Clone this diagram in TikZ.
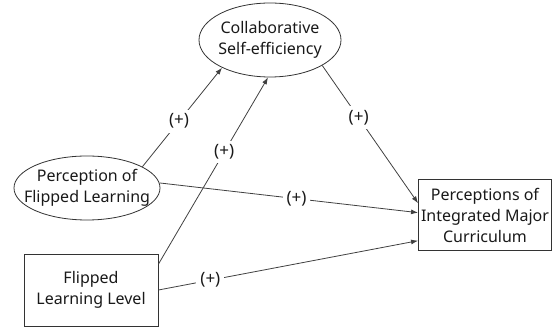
\documentclass[tikz,border=0pt]{standalone}
\usepackage{fontspec}
\setmainfont{Noto Sans}
\usetikzlibrary{shapes.geometric,arrows.meta}
\begin{document}
\begin{tikzpicture}[x=1pt,y=-1pt,
  every node/.style={font=\fontsize{16}{21}\selectfont, align=center, text=black!90},
  ell/.style={draw=black!80, line width=0.8pt, ellipse, inner xsep=-30pt, inner ysep=-12pt},
  boxnode/.style={draw=black!80, line width=0.9pt, rectangle, inner sep=0pt},
  arr/.style={draw=black!75, line width=0.8pt, -{Latex[length=7pt,width=5pt]}},
  lbl/.style={fill=white, inner sep=4pt, font=\fontsize{17}{20}\selectfont}]
\useasboundingbox (0,0) rectangle (556,328);
\node[ell, minimum width=142pt, minimum height=74pt] (cse) at (270,40) {Collaborative\\Self-efficiency};
\node[ell, minimum width=146pt, minimum height=64pt] (pfl) at (87,188) {Perception of\\Flipped Learning};
\node[boxnode, minimum width=134pt, minimum height=72pt] (ffl) at (91,290) {Flipped\\Learning Level};
\node[boxnode, minimum width=133pt, minimum height=71pt] (pim) at (485,215) {Perceptions of\\Integrated Major\\Curriculum};
\draw[arr] (pfl.21) -- node[lbl, pos=0.46] {(+)} (cse.210);
\draw[arr] (ffl.21) -- node[lbl, pos=0.60] {(+)} (cse.267);
\draw[arr] (cse.334) -- node[lbl, pos=0.38] {(+)} (pim.170);
\draw[arr] (pfl.4) -- node[lbl, pos=0.53] {(+)} (pim.178);
\draw[arr] (ffl.east) -- node[lbl, pos=0.2] {(+)} (pim.201);
\end{tikzpicture}
\end{document}
